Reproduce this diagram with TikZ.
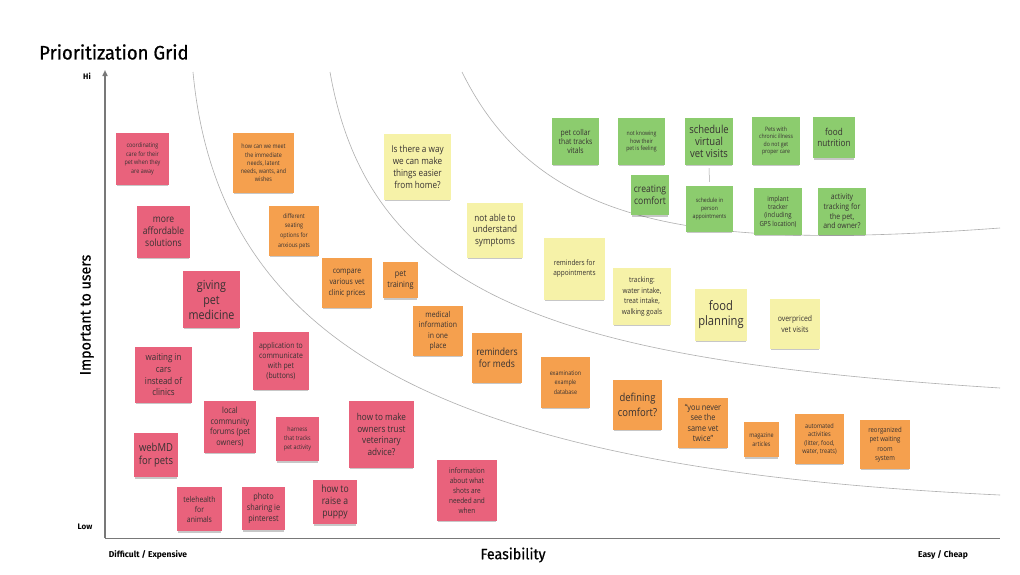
\documentclass[tikz,border=0pt]{standalone}
\usepackage{fontspec}
\setmainfont[FakeStretch=0.86]{Open Sans}
\newfontfamily\uifont{Fira Sans}
\newfontfamily\titlefont[FakeBold=0.7,FakeStretch=0.95]{Fira Sans}
\usetikzlibrary{shadows,arrows.meta}
\definecolor{pinkn}{RGB}{233,98,124}
\definecolor{orangen}{RGB}{245,160,78}
\definecolor{yellown}{RGB}{246,242,168}
\definecolor{greenn}{RGB}{140,204,110}
\definecolor{notetext}{RGB}{55,50,50}
\definecolor{curvec}{RGB}{175,175,175}
\definecolor{axisc}{RGB}{120,120,120}
\tikzset{
  notebox/.style={draw=none, inner sep=0pt, align=center, text=notetext,
    drop shadow={shadow xshift=0pt, shadow yshift=-2.5pt, opacity=0.22, fill=black, shadow scale=0.96}},
  curveline/.style={draw=curvec, line width=0.6pt},
  axisline/.style={draw=axisc, line width=1.6pt},
  axislabel/.style={font=\uifont, text=black, inner sep=0pt},
  linkline/.style={draw=gray!70, line width=0.5pt},
}
\newcommand\note[9]{%
  \pgfmathsetmacro\notewd{#5-#3}%
  \pgfmathsetmacro\noteht{#6-#4}%
  \pgfmathsetmacro\notecx{(#3+#5)/2}%
  \pgfmathsetmacro\notecy{(#4+#6)/2}%
  \node[notebox, fill=#2, minimum width=\notewd pt, minimum height=\noteht pt,
    font=\fontsize{#7}{#8}\selectfont]
    (#1) at (\notecx,\notecy) {#9};%
}
\begin{document}
\begin{tikzpicture}[x=1pt,y=-1pt]
\useasboundingbox[fill=white] (0,0) rectangle (1020,574);

% title
\node[axislabel, anchor=west, font=\titlefont\fontsize{19.5}{24}\selectfont] (title) at (39,52) {Prioritization Grid};

% curves
\draw[curveline] (193,72) .. controls (220,360) and (470,470) .. (1000,495);
\draw[curveline] (330,72) .. controls (370,300) and (560,360) .. (1000,388);
\draw[curveline] (462,72) .. controls (540,230) and (700,250) .. (1000,228);

% axes
\coordinate (origin) at (105,538);
\coordinate (ytop) at (105,70);
\coordinate (xend) at (1000,538);
\draw[axisline, -{Triangle[length=6pt,width=5pt]}] (origin) -- (ytop);
\draw[draw=axisc, line width=0.8pt] (origin) -- (xend);

\node[axislabel, font=\uifont\bfseries\fontsize{8}{10}\selectfont] (hi) at (87,76) {Hi};
\node[axislabel, font=\uifont\bfseries\fontsize{8}{10}\selectfont] (low) at (85,527) {Low};
\node[axislabel, font=\uifont\bfseries\fontsize{8.5}{10}\selectfont] (diff) at (148,555) {Difficult / Expensive};
\node[axislabel, font=\uifont\bfseries\fontsize{8.5}{10}\selectfont] (easy) at (943,555) {Easy / Cheap};
\node[axislabel, font=\titlefont\fontsize{15}{18}\selectfont] (feas) at (513,555) {Feasibility};
\node[axislabel, font=\titlefont\fontsize{15}{18}\selectfont, rotate=90] (imp) at (87,315) {Important to users};

% pink notes
\note{p1}{pinkn}{116}{133}{169}{185}{6.3}{8.6}{coordinating\\care for their\\pet when they\\are away}
\note{p2}{pinkn}{137}{206}{190}{258}{10}{12.2}{more\\affordable\\solutions}
\note{p3}{pinkn}{183}{271}{240}{328}{12.5}{15}{giving\\pet\\medicine}
\note{p4}{pinkn}{253}{332}{309}{390}{8}{10}{application to\\communicate\\with pet\\(buttons)}
\note{p5}{pinkn}{135}{347}{192}{403}{9.3}{11.7}{waiting in\\cars\\instead of\\clinics}
\note{p6}{pinkn}{204}{401}{256}{453}{8.5}{10.8}{local\\community\\forums (pet\\owners)}
\note{p7}{pinkn}{276}{417}{319}{461}{6.3}{9}{harness\\that tracks\\pet activity}
\note{p8}{pinkn}{349}{401}{414}{468}{9.5}{11.7}{how to make\\owners trust\\veterinary\\advice?}
\note{p9}{pinkn}{134}{433}{178}{477}{11}{12.7}{webMD\\for pets}
\note{p10}{pinkn}{177}{487}{222}{531}{8}{10}{telehealth\\for\\animals}
\note{p11}{pinkn}{242}{487}{285}{530}{8.5}{10.8}{photo\\sharing ie\\pinterest}
\note{p12}{pinkn}{313}{480}{357}{524}{10}{12.2}{how to\\raise a\\puppy}
\note{p13}{pinkn}{437}{460}{497}{521}{7.5}{10}{information\\about what\\shots are\\needed and\\when}

% orange notes
\note{o1}{orangen}{233}{133}{294}{193}{6.3}{8.3}{how can we meet\\the immediate\\needs, latent\\needs, wants, and\\wishes}
\note{o2}{orangen}{269}{206}{319}{256}{6.3}{9.6}{different\\seating\\options for\\anxious pets}
\note{o3}{orangen}{322}{258}{372}{308}{8}{10.8}{compare\\various vet\\clinic prices}
\note{o4}{orangen}{383}{262}{418}{298}{8.5}{11}{pet\\training}
\note{o5}{orangen}{413}{306}{463}{356}{8}{10.3}{medical\\information\\in one\\place}
\note{o6}{orangen}{472}{333}{522}{383}{10}{12.3}{reminders\\for meds}
\note{o7}{orangen}{541}{357}{590}{408}{6.3}{9.7}{examination\\example\\database}
\note{o8}{orangen}{613}{380}{662}{430}{11}{15}{defining\\comfort?}
\note{o9}{orangen}{678}{398}{728}{448}{8.5}{10.3}{``you never\\see the\\same vet\\twice''}
\note{o10}{orangen}{744}{422}{779}{457}{6.3}{9}{magazine\\articles}
\note{o11}{orangen}{795}{414}{844}{464}{6.5}{8.6}{automated\\activities\\(litter, food,\\water, treats)}
\note{o12}{orangen}{860}{420}{910}{469}{7}{9.5}{reorganized\\pet waiting\\room\\system}

% yellow notes
\note{y1}{yellown}{384}{134}{451}{200}{9.5}{12.1}{Is there a way\\we can make\\things easier\\from home?}
\note{y2}{yellown}{467}{203}{523}{258}{9.5}{11.3}{not able to\\understand\\symptoms}
\note{y3}{yellown}{544}{238}{605}{300}{7.5}{10}{reminders for\\appointments}
\note{y4}{yellown}{613}{268}{671}{325}{7.5}{10.5}{tracking:\\water intake,\\treat intake,\\walking goals}
\note{y5}{yellown}{695}{289}{747}{341}{13}{15}{food\\planning}
\note{y6}{yellown}{770}{299}{820}{349}{8}{11.5}{overpriced\\vet visits}

% green notes
\note{g1}{greenn}{552}{118}{599}{165}{8}{9.3}{pet collar\\that tracks\\vitals}
\note{g2}{greenn}{618}{118}{665}{165}{6}{7.7}{not knowing\\how their\\pet is feeling}
\note{g3}{greenn}{685}{118}{733}{165}{11}{11.7}{schedule\\virtual\\vet visits}
\note{g4}{greenn}{631}{175}{669}{215}{10}{11.7}{creating\\comfort}
\note{g5}{greenn}{686}{186}{733}{232}{6}{8}{schedule in\\person\\appointments}
\note{g6}{greenn}{752}{117}{800}{165}{6}{7.2}{Pets with\\chronic illness\\do not get\\proper care}
\note{g7}{greenn}{813}{117}{855}{158}{9.5}{10.3}{food\\nutrition}
\note{g8}{greenn}{754}{188}{802}{235}{7}{8.4}{implant\\tracker\\(including\\GPS location)}
\note{g9}{greenn}{818}{188}{866}{235}{8}{9.7}{activity\\tracking for\\the pet,\\and owner?}

\draw[linkline, shorten <=3pt, shorten >=4pt] (g3.south) -- (g5.north);
\end{tikzpicture}
\end{document}
